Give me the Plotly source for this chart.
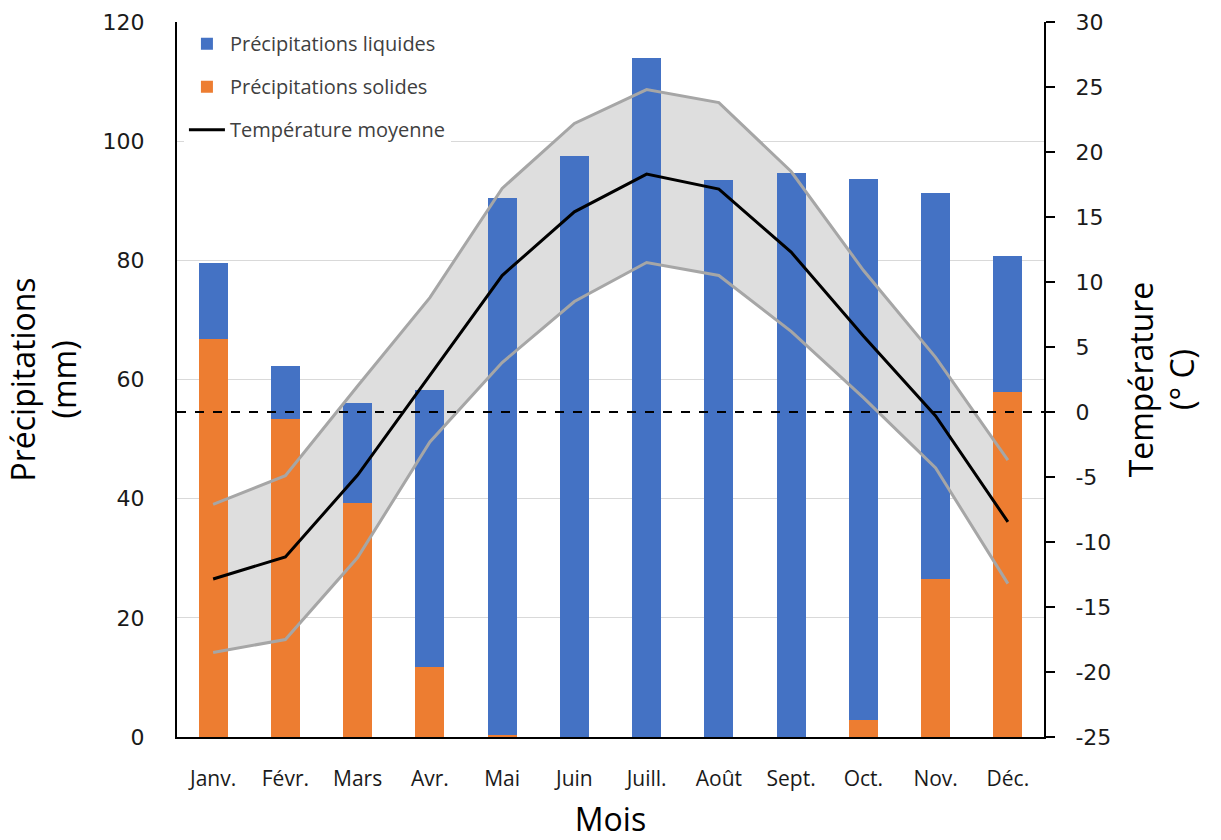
import plotly.graph_objects as go

# Monthly climate data
months = ["Janv.", "Févr.", "Mars", "Avr.", "Mai", "Juin", "Juill.", "Août",
          "Sept.", "Oct.", "Nov.", "Déc."]
precip_solid = [66.8, 53.3, 39.2, 11.7, 0.4, 0.0, 0.0, 0.0, 0.0, 2.9, 26.5, 57.9]
precip_liquid = [12.7, 9.0, 16.9, 46.6, 90.1, 97.5, 114.0, 93.5, 94.7, 90.8, 64.8, 22.9]
temp_mean = [-12.85, -11.15, -4.85, 2.85, 10.5, 15.4, 18.3, 17.15, 12.3, 5.85, -0.3, -8.45]
temp_max = [-7.1, -4.9, 2.0, 8.8, 17.2, 22.2, 24.8, 23.8, 18.5, 10.9, 4.2, -3.7]
temp_min = [-18.5, -17.5, -11.2, -2.3, 3.8, 8.5, 11.5, 10.5, 6.2, 1.1, -4.3, -13.2]

precip_ticks = [0, 20, 40, 60, 80, 100, 120]
temp_ticks = list(range(-25, 31, 5))
temp_tick_labels = [str(v) for v in temp_ticks]  # plain hyphen minus

BLUE = "#4472C4"
ORANGE = "#ED7D31"
BAND_FILL = "#DEDEDE"
BAND_LINE = "#A6A6A6"
TICK_FONT = dict(family="DejaVu Sans", size=22, color="#1a1a1a")
LABEL_FONT = dict(family="Open Sans", size=21, color="#1a1a1a")
TITLE_FONT = dict(family="Open Sans", size=32, color="#000000")

fig = go.Figure()

# Min/max band fill (bottom layer, behind the bars)
fig.add_trace(go.Scatter(x=months, y=temp_max, mode="lines", line=dict(width=0),
                         yaxis="y", showlegend=False, hoverinfo="skip"))
fig.add_trace(go.Scatter(x=months, y=temp_min, mode="lines", line=dict(width=0),
                         fill="tonexty", fillcolor=BAND_FILL,
                         yaxis="y", showlegend=False, hoverinfo="skip"))

# Stacked precipitation bars
fig.add_trace(go.Bar(x=months, y=precip_solid, name="Précipitations solides",
                     marker=dict(color=ORANGE, line=dict(width=0)), yaxis="y2",
                     legendrank=2, legendgroup="b"))
fig.add_trace(go.Bar(x=months, y=precip_liquid, name="Précipitations liquides",
                     marker=dict(color=BLUE, line=dict(width=0)), yaxis="y2",
                     legendrank=1, legendgroup="a"))

# Temperature lines (top layer)
fig.add_trace(go.Scatter(x=months, y=temp_max, mode="lines",
                         line=dict(color=BAND_LINE, width=3), yaxis="y3",
                         showlegend=False))
fig.add_trace(go.Scatter(x=months, y=temp_min, mode="lines",
                         line=dict(color=BAND_LINE, width=3), yaxis="y3",
                         showlegend=False))
fig.add_trace(go.Scatter(x=months, y=temp_mean, mode="lines",
                         name="Température moyenne",
                         line=dict(color="#000000", width=3), yaxis="y3",
                         legendrank=3, legendgroup="c"))

# 0 °C reference line
fig.add_shape(type="line", xref="paper", x0=0, x1=1, yref="y3", y0=0, y1=0,
              line=dict(color="#000000", width=2, dash="dash"), layer="above")

fig.update_layout(
    width=1221, height=840,
    margin=dict(l=177, r=177, t=22, b=103),
    paper_bgcolor="white", plot_bgcolor="white",
    barmode="stack", bargap=0.6,
    showlegend=True,
    legend=dict(x=0.008, y=0.997, xanchor="left", yanchor="top",
                bgcolor="rgba(255,255,255,1)", traceorder="grouped",
                tracegroupgap=14, itemwidth=36,
                font=dict(family="Open Sans", size=20, color="#404040")),
    xaxis=dict(range=[-0.5, 11.5], showline=True, linecolor="#000000",
               linewidth=2, ticks="", tickfont=LABEL_FONT, automargin=False,
               ticklabelstandoff=22, showgrid=False,
               title=dict(text="Mois", font=TITLE_FONT, standoff=22)),
    yaxis=dict(range=[-25, 30], visible=False, showgrid=False, zeroline=False),
    yaxis2=dict(range=[0, 120], tickvals=precip_ticks, overlaying="y",
                side="left", showline=True, linecolor="#000000", linewidth=2,
                ticks="", tickfont=TICK_FONT, ticklabelstandoff=26,
                showgrid=True, gridcolor="#D9D9D9", gridwidth=1,
                zeroline=False, automargin=False,
                title=dict(text="Précipitations<br>(mm)", font=TITLE_FONT,
                           standoff=16)),
    yaxis3=dict(range=[-25, 30], tickvals=temp_ticks, ticktext=temp_tick_labels,
                overlaying="y",
                side="right", showline=True, linecolor="#000000", linewidth=2,
                ticks="outside", ticklen=9, tickwidth=2, tickcolor="#000000",
                tickfont=TICK_FONT, ticklabelstandoff=16,
                showgrid=False, zeroline=False, automargin=False,
                title=dict(text="Température<br>(° C)", font=TITLE_FONT,
                           standoff=20)),
)

fig.write_html("out.html")
